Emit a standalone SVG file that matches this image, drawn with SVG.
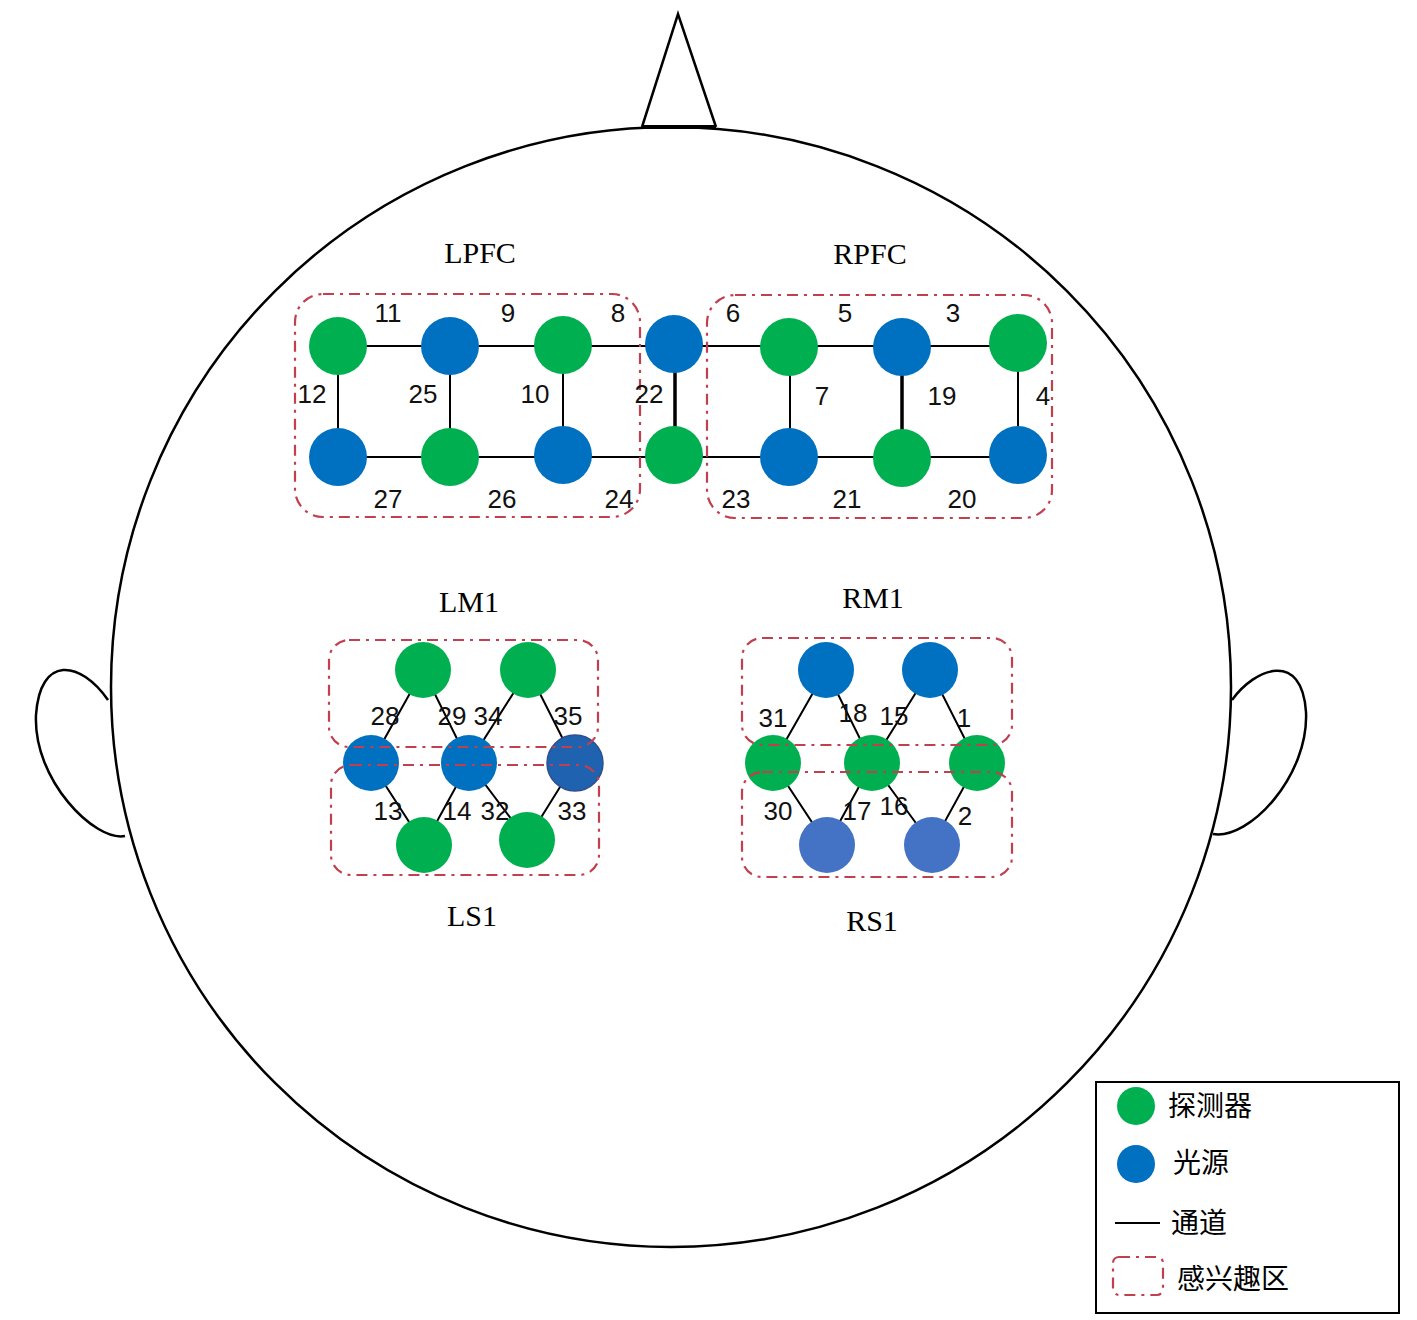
<svg xmlns="http://www.w3.org/2000/svg" width="1417" height="1320" viewBox="0 0 1417 1320">
<style>
.out{fill:none;stroke:#000;stroke-width:2.5}
.ln{stroke:#000;stroke-width:2;fill:none}
.thk{stroke:#000;stroke-width:3.5}
.roi{fill:none;stroke:#C0404F;stroke-width:2.2;stroke-dasharray:11 6 3 6}
.g{fill:#00B050}
.b{fill:#0070C0}
.b2{fill:#1F62B0;stroke:#2F4F8F;stroke-width:1.5}
.lb{fill:#4472C4}
.num{font-family:"Liberation Sans",Arial,sans-serif;font-size:26px;fill:#111;text-anchor:middle}
.ttl{font-family:"Liberation Serif","Times New Roman",serif;font-size:30px;fill:#000;text-anchor:middle}
.leg{font-family:"Noto Sans CJK SC",sans-serif;font-size:28px;fill:#000}
</style>
<rect width="1417" height="1320" fill="#fff"/>
<g id="head">
<path class="out" d="M108,700 C80,660 40,655 36,715 C33,780 95,842 125,836"/>
<path class="out" d="M1232,700 C1255,668 1302,650 1306,712 C1309,775 1250,840 1213,834"/>
<circle class="out" cx="671" cy="687" r="560"/>
<path class="out" d="M642,127 L678,14 L716,127"/>
<line x1="642" y1="127" x2="716" y2="127" stroke="#000" stroke-width="4"/>
</g>
<g id="connectors">
<line class="ln" x1="338" y1="346" x2="1018" y2="346"/>
<line class="ln" x1="338" y1="457" x2="1018" y2="457"/>
<line class="ln" x1="338" y1="346" x2="338" y2="457"/>
<line class="ln" x1="450" y1="346" x2="450" y2="457"/>
<line class="ln" x1="563" y1="346" x2="563" y2="457"/>
<line class="thk" x1="675" y1="346" x2="675" y2="457"/>
<line class="ln" x1="790" y1="346" x2="790" y2="457"/>
<line class="thk" x1="902" y1="346" x2="902" y2="457" stroke-width="3"/>
<line class="ln" x1="1018" y1="346" x2="1018" y2="457"/>
<path class="ln" d="M423,670 L371,763 L424,845 L469,763 L423,670 M528,670 L469,763 L527,840 L575,763 L528,670"/>
<path class="ln" d="M826,670 L773,763 L827,845 L872,763 L826,670 M930,670 L872,763 L932,845 L977,763 L930,670"/>
</g>
<g id="lpfc">
<rect class="roi" x="295" y="294" width="345" height="223" rx="28"/>
<text class="ttl" x="480" y="263">LPFC</text>
<circle class="g" cx="338" cy="346" r="29"/>
<circle class="b" cx="450" cy="346" r="29"/>
<circle class="g" cx="563" cy="345" r="29"/>
<circle class="b" cx="338" cy="457" r="29"/>
<circle class="g" cx="450" cy="457" r="29"/>
<circle class="b" cx="563" cy="455" r="29"/>
<text class="num" x="388" y="322">11</text>
<text class="num" x="508" y="322">9</text>
<text class="num" x="618" y="322">8</text>
<text class="num" x="312" y="403">12</text>
<text class="num" x="423" y="403">25</text>
<text class="num" x="535" y="403">10</text>
<text class="num" x="388" y="508">27</text>
<text class="num" x="502" y="508">26</text>
<text class="num" x="619" y="508">24</text>
</g>
<g id="center">
<circle class="b" cx="674" cy="344" r="29"/>
<circle class="g" cx="674" cy="455" r="29"/>
<text class="num" x="649" y="403">22</text>
</g>
<g id="rpfc">
<rect class="roi" x="707" y="295" width="345" height="223" rx="28"/>
<text class="ttl" x="870" y="264">RPFC</text>
<circle class="g" cx="789" cy="347" r="29"/>
<circle class="b" cx="902" cy="347" r="29"/>
<circle class="g" cx="1018" cy="343" r="29"/>
<circle class="b" cx="789" cy="457" r="29"/>
<circle class="g" cx="902" cy="458" r="29"/>
<circle class="b" cx="1018" cy="455" r="29"/>
<text class="num" x="733" y="322">6</text>
<text class="num" x="845" y="322">5</text>
<text class="num" x="953" y="322">3</text>
<text class="num" x="822" y="405">7</text>
<text class="num" x="942" y="405">19</text>
<text class="num" x="1043" y="405">4</text>
<text class="num" x="736" y="508">23</text>
<text class="num" x="847" y="508">21</text>
<text class="num" x="962" y="508">20</text>
</g>
<g id="lm1">
<text class="ttl" x="469" y="612">LM1</text>
<circle class="g" cx="423" cy="670" r="28"/>
<circle class="g" cx="528" cy="670" r="28"/>
<circle class="b" cx="371" cy="763" r="28"/>
<circle class="b" cx="469" cy="763" r="28"/>
<circle class="b2" cx="575" cy="763" r="28"/>
<text class="num" x="385" y="725">28</text>
<text class="num" x="452" y="725">29</text>
<text class="num" x="488" y="725">34</text>
<text class="num" x="568" y="725">35</text>
<rect class="roi" x="329" y="640" width="269" height="107" rx="20"/>
</g>
<g id="ls1">
<circle class="g" cx="424" cy="845" r="28"/>
<circle class="g" cx="527" cy="840" r="28"/>
<text class="num" x="388" y="820">13</text>
<text class="num" x="457" y="820">14</text>
<text class="num" x="495" y="820">32</text>
<text class="num" x="572" y="820">33</text>
<rect class="roi" x="331" y="765" width="268" height="110" rx="20"/>
<text class="ttl" x="472" y="926">LS1</text>
</g>
<g id="rm1">
<text class="ttl" x="873" y="608">RM1</text>
<circle class="b" cx="826" cy="670" r="28"/>
<circle class="b" cx="930" cy="670" r="28"/>
<circle class="g" cx="773" cy="763" r="28"/>
<circle class="g" cx="872" cy="763" r="28"/>
<circle class="g" cx="977" cy="763" r="28"/>
<text class="num" x="773" y="727">31</text>
<text class="num" x="853" y="722">18</text>
<text class="num" x="894" y="725">15</text>
<text class="num" x="964" y="727">1</text>
<rect class="roi" x="742" y="638" width="270" height="107" rx="20" stroke="#A84050"/>
</g>
<g id="rs1">
<circle class="lb" cx="827" cy="845" r="28"/>
<circle class="lb" cx="932" cy="845" r="28"/>
<text class="num" x="778" y="820">30</text>
<text class="num" x="857" y="820">17</text>
<text class="num" x="894" y="815">16</text>
<text class="num" x="965" y="825">2</text>
<rect class="roi" x="742" y="772" width="270" height="105" rx="20" stroke="#A84050"/>
<text class="ttl" x="872" y="931">RS1</text>
</g>
<g id="legend">
<rect x="1096" y="1082" width="303" height="231" fill="#fff" stroke="#000" stroke-width="2"/>
<circle class="g" cx="1136" cy="1106" r="19"/>
<text class="leg" x="1168" y="1116">探测器</text>
<circle class="b" cx="1136" cy="1164" r="19"/>
<text class="leg" x="1173" y="1173">光源</text>
<line x1="1115" y1="1223" x2="1160" y2="1223" stroke="#000" stroke-width="2"/>
<text class="leg" x="1171" y="1233">通道</text>
<rect class="roi" x="1113" y="1257" width="50" height="38" rx="6" stroke="#A84050"/>
<text class="leg" x="1177" y="1289">感兴趣区</text>
</g>
</svg>
